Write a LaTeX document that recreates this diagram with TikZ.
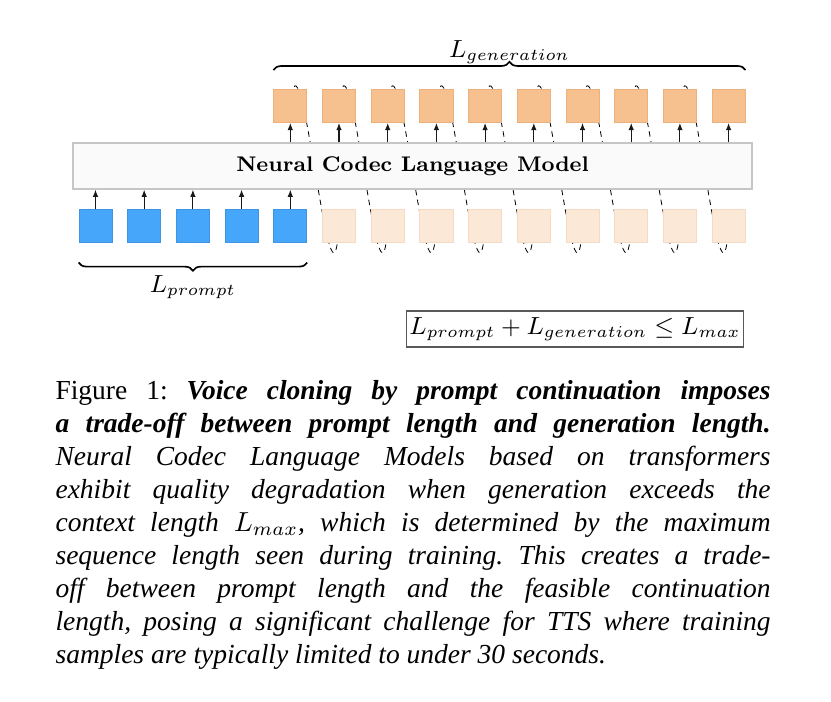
\documentclass[tikz,border=0pt]{standalone}
\usepackage{fontspec}
\newfontfamily\capfont{Liberation Serif}
\usetikzlibrary{arrows.meta,decorations.pathreplacing,backgrounds}

\definecolor{promptblue}{RGB}{70,166,250}
\definecolor{genorange}{RGB}{246,192,143}
\definecolor{genedge}{RGB}{236,176,124}
\definecolor{futfill}{RGB}{252,232,215}
\definecolor{futedge}{RGB}{246,219,196}

\tikzset{
  tok/.style={minimum size=12pt, inner sep=0pt, line width=0.3pt},
  prompttok/.style={tok, fill=promptblue, draw=promptblue!90!black},
  gentok/.style={tok, fill=genorange, draw=genedge},
  futtok/.style={tok, fill=futfill, draw=futedge},
  feed/.style={gray!20!black, line width=0.4pt, -{Latex[length=2.6pt,width=2pt]}},
  loopback/.style={black, line width=0.3pt, dash pattern=on 2pt off 1.6pt},
  lenbrace/.style={decorate, decoration={brace, amplitude=3pt}, line width=0.6pt}
}

\begin{document}
\begin{tikzpicture}[x=0.3636pt, y=-0.3636pt]
\useasboundingbox (0,0) rectangle (831,701);

% model
\node[draw=gray!45, fill=gray!4, line width=0.5pt, minimum width=246.9pt, minimum height=16.7pt, inner sep=0pt, font=\fontsize{7.7}{9}\selectfont\bfseries] (model) at (412.5,166) {Neural Codec Language Model};

% tokens
\foreach \i in {1,...,5}
  \node[prompttok] (b\i) at ({95.5+(\i-1)*48.7},225.5) {};
\foreach \i in {5,...,14}
  \node[gentok] (t\i) at ({95.5+(\i-1)*48.7},106) {};
\foreach \i in {6,...,14}
  \node[futtok] (l\i) at ({95.5+(\i-1)*48.7},225.5) {};

% arrows
\foreach \i in {1,...,5}
  \draw[feed] (b\i.north) -- (b\i.north |- model.south);
\foreach \i in {5,...,14}
  \draw[feed] (t\i.south |- model.north) -- (t\i.south);

% dashed loop back, behind the boxes
\begin{scope}[on background layer]
\foreach \i [count=\j from 6] in {5,...,13}
  \draw[loopback] (t\i.center) .. controls +(10,-106) and +(-8,125) .. (l\j.center);
\end{scope}

% lengths
\draw[lenbrace] ([yshift=6.9pt]t5.north west) -- ([yshift=6.9pt]t14.north east)
  node[midway, anchor=base, yshift=4.5pt, font=\small] (lgen) {$L_{generation}$};
\draw[lenbrace] ([yshift=-7.3pt]b5.south east) -- ([yshift=-7.3pt]b1.south west)
  node[midway, anchor=base, yshift=-10.9pt, font=\small] (lprompt) {$L_{prompt}$};

\node[draw=gray!70!black, line width=0.4pt, minimum width=120.7pt, minimum height=13.1pt, inner sep=1pt, font=\small] (limit) at (575,329) {$L_{prompt}+L_{generation}\leq L_{max}$};

% caption
\node[anchor=north west, inner sep=0pt, text width=260pt, align=justify, font=\capfont\fontsize{10}{12}\selectfont\frenchspacing] (caption) at (55,380) {Figure 1: \textbf{\textit{Voice cloning by prompt continuation imposes\linebreak a trade-off between prompt length and generation length.}}\linebreak \textit{Neural Codec Language Models based on transformers\linebreak exhibit quality degradation when generation exceeds the\linebreak context length $L_{max}$, which is determined by the maximum\linebreak sequence length seen during training. This creates a trade-\linebreak off between prompt length and the feasible continuation\linebreak length, posing a significant challenge for TTS where training\linebreak samples are typically limited to under 30 seconds.}};
\end{tikzpicture}
\end{document}
